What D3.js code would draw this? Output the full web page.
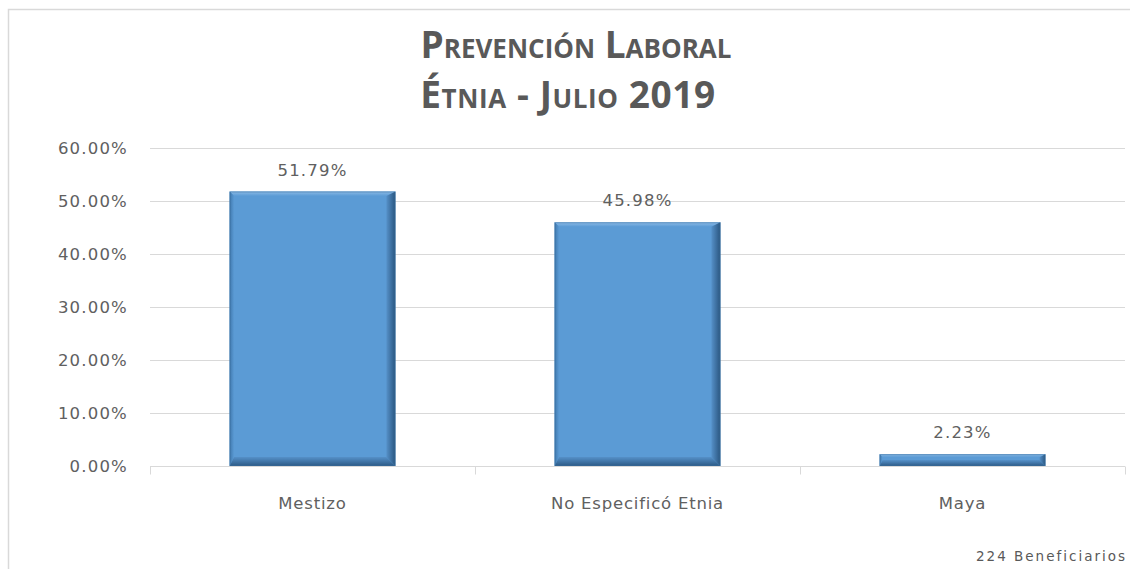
<!DOCTYPE html>
<html>
<head>
<meta charset="UTF-8">
<style>
body { margin: 0; background: #fff; }
svg { display: block; font-family: "DejaVu Sans", Verdana, sans-serif; }
</style>
</head>
<body>
<script src="https://d3js.org/d3.v7.min.js"></script>
<script>
// data
var categories = ["Mestizo", "No Especificó Etnia", "Maya"]
var values = [0.5179, 0.4598, 0.0223]
var yTicks = [0, 0.1, 0.2, 0.3, 0.4, 0.5, 0.6]

var W = 1130, H = 569
var grey = "#595959"
var fmt = d3.format(".2%")

var svg = d3.select("body").append("svg").attr("width", W).attr("height", H)

// gradients for the bevelled bars
var defs = svg.append("defs")
function grad(id, x2, y2, c1, c2) {
  var g = defs.append("linearGradient").attr("id", id)
      .attr("x1", 0).attr("y1", 0).attr("x2", x2).attr("y2", y2)
  g.append("stop").attr("offset", "0%").attr("stop-color", c1)
  g.append("stop").attr("offset", "100%").attr("stop-color", c2)
}
grad("gRight", 1, 0, "#5590c8", "#2a5680")
grad("gBottom", 0, 1, "#5590c8", "#2c5a86")
grad("gLeft", 1, 0, "#3f78ad", "#5b9bd5")
grad("gTop", 0, 1, "#8dbbe6", "#5b9bd5")

// chart frame
svg.append("path").attr("d", "M8.5," + H + "V9.5H" + W)
   .attr("fill", "none").attr("stroke", "#d9d9d9").attr("stroke-width", 1.5)

// title
var title = svg.append("g").attr("fill", grey).attr("font-weight", "bold")
    .attr("text-anchor", "middle").style("font-variant", "small-caps")
    .attr("font-family", "'Open Sans', sans-serif").attr("font-size", 37)
title.append("text").attr("x", 576).attr("y", 58).text("Prevención Laboral")
title.append("text").attr("x", 568).attr("y", 108).attr("letter-spacing", 0.6).text("Étnia  - Julio 2019")

var x = d3.scaleBand().domain(categories).range([150, 1125]).paddingInner(0.49).paddingOuter(0.245)
var y = d3.scaleLinear().domain([0, 0.6]).range([466, 148])

// gridlines
svg.append("g").selectAll("line").data(yTicks.slice(1)).join("line")
   .attr("x1", 150).attr("x2", 1125)
   .attr("y1", d => Math.round(y(d)) + 0.5).attr("y2", d => Math.round(y(d)) + 0.5)
   .attr("stroke", "#d9d9d9")

// y axis labels
svg.append("g").selectAll("text").data(yTicks).join("text")
   .attr("x", 128).attr("y", d => y(d) + 6)
   .attr("text-anchor", "end").attr("font-size", 16.5).attr("fill", "#606060")
   .attr("letter-spacing", 1.2)
   .text(d => fmt(d))

// x axis
var xAxis = d3.axisBottom(x).tickSize(0)
var gx = svg.append("g").attr("transform", "translate(0,466.5)").call(xAxis)
gx.select(".domain").attr("stroke", "#d9d9d9").attr("d", "M150,0H1125")
gx.selectAll("text").attr("font-size", 16.5).attr("fill", "#606060").attr("letter-spacing", 0.8)
  .attr("font-family", "'DejaVu Sans', sans-serif").attr("dy", "2.4em")
var bounds = [150, 475, 800, 1125]
gx.selectAll(".sep").data(bounds).join("line").attr("class", "sep")
  .attr("x1", d => d + 0.5).attr("x2", d => d + 0.5).attr("y1", 0).attr("y2", 8)
  .attr("stroke", "#d9d9d9")

// bars with bevel
var bevel = 9
var bars = svg.append("g").selectAll("g").data(values).join("g")
bars.each(function(v, i) {
  var g = d3.select(this)
  var x0 = x(categories[i]), x1 = x0 + x.bandwidth()
  var y0 = y(v), y1 = y(0)
  var b = Math.min(bevel, (y1 - y0) / 2)
  g.append("rect").attr("x", x0).attr("y", y0).attr("width", x1 - x0).attr("height", y1 - y0)
   .attr("fill", "#5b9bd5")
  // top
  g.append("path").attr("d", `M${x0},${y0}L${x1},${y0}L${x1-b/2},${y0+b/2}L${x0+b/2},${y0+b/2}Z`).attr("fill", "url(#gTop)")
  // left
  g.append("path").attr("d", `M${x0},${y0}L${x0+b/2},${y0+b/2}L${x0+b/2},${y1-b}L${x0},${y1}Z`).attr("fill", "url(#gLeft)")
  // right
  g.append("path").attr("d", `M${x1},${y0}L${x1},${y1}L${x1-b},${y1-b}L${x1-b},${y0+b/2}Z`).attr("fill", "url(#gRight)")
  // bottom
  g.append("path").attr("d", `M${x0},${y1}L${x1},${y1}L${x1-b},${y1-b}L${x0+b/2},${y1-b}Z`).attr("fill", "url(#gBottom)")
  g.append("rect").attr("x", x0 + 0.5).attr("y", y0 + 0.5).attr("width", x1 - x0 - 1).attr("height", y1 - y0 - 1)
   .attr("fill", "none").attr("stroke", "#3a6d9c").attr("stroke-width", 1).attr("stroke-opacity", 0.5)
  // label
  g.append("text").attr("x", (x0 + x1) / 2).attr("y", y0 - 16)
   .attr("text-anchor", "middle").attr("font-size", 16.5).attr("fill", "#606060")
   .attr("letter-spacing", 1.2)
   .text(fmt(v))
})

// footnote
svg.append("text").attr("x", 1127).attr("y", 561).attr("text-anchor", "end")
   .attr("font-size", 13.5).attr("fill", grey).attr("letter-spacing", 2)
   .text("224 Beneficiarios")
</script>
</body>
</html>
